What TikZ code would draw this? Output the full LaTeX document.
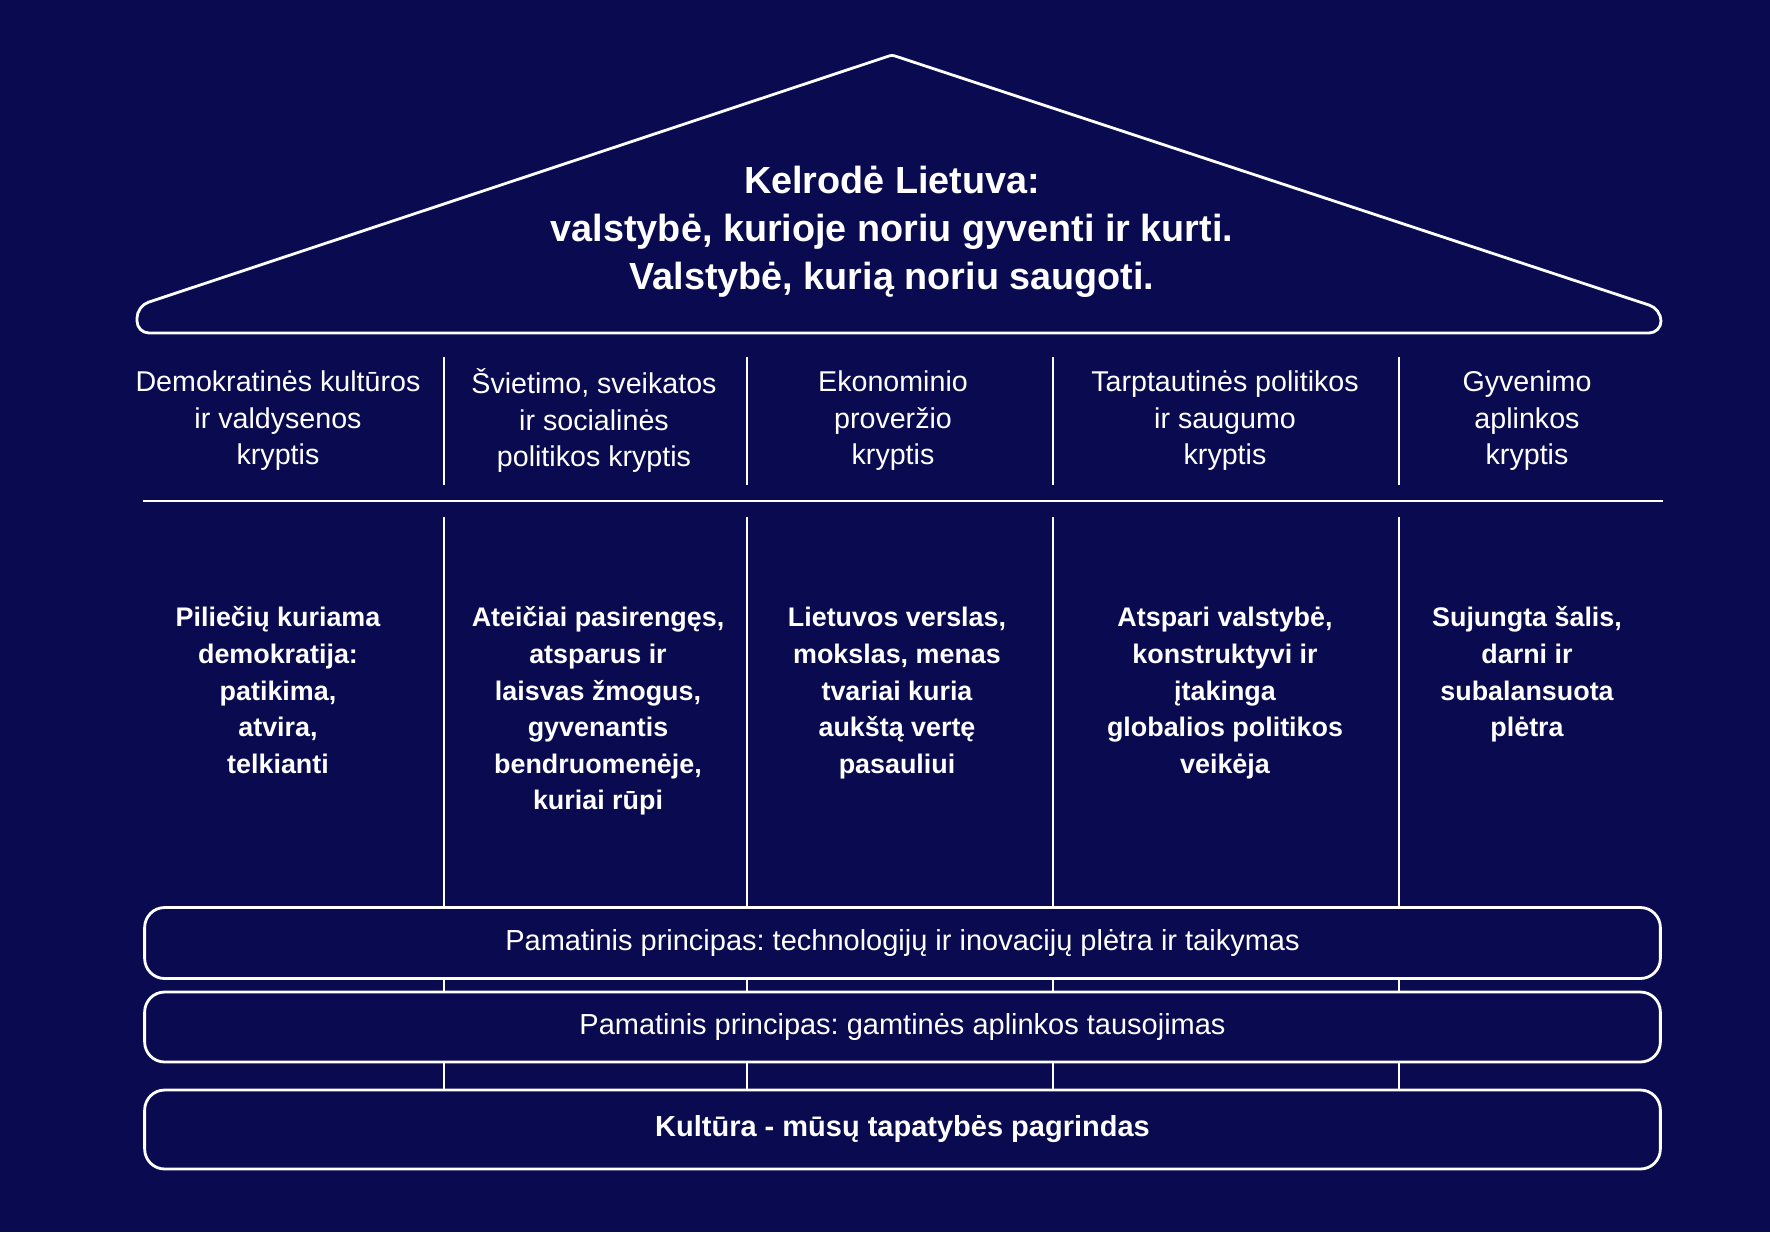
\documentclass[tikz,border=0pt]{standalone}
\usepackage{fontspec}
\setmainfont{Liberation Sans}
\frenchspacing
\definecolor{bgNavy}{HTML}{0A0A50}
\definecolor{lineWhite}{HTML}{FFFFFF}
\usepackage{tikz}
\usetikzlibrary{calc, positioning}
\usepackage{xcolor}

\tikzset{
  roofline/.style={draw=lineWhite, line width=1.6pt},
  divider/.style={draw=lineWhite, line width=1.5pt},
  headtext/.style={text=white, align=center, anchor=north, inner sep=0pt,
    font=\fontsize{16.3}{21}\selectfont},
  goaltext/.style={text=white, align=center, anchor=north, inner sep=0pt,
    font=\fontsize{15.3}{20.8}\selectfont\bfseries},
  basebox/.style={draw=lineWhite, line width=1.6pt, fill=bgNavy, rounded corners=0.4cm,
    minimum width=30.32cm, text=white, inner sep=0pt,
    font=\fontsize{16.5}{21}\selectfont}
}

\begin{document}
\begin{tikzpicture}[x=0.02cm, y=-0.02cm]
        \fill[bgNavy] (0,0) rectangle (1770,1232);
        \useasboundingbox (0,0) rectangle (1770,1232);

        \draw[roofline] (600,333) [rounded corners=0.24cm] -- (137,333) -- (137,306)
          [rounded corners=0.05cm] -- (892,55) [rounded corners=0.24cm] -- (1661,309)
          -- (1661,333) [sharp corners] -- cycle;
        \node[text=white, align=center, anchor=north, inner sep=0pt,
              font=\fontsize{21.5}{27.3}\selectfont\bfseries] (vision) at (892,160) {%
          \strut Kelrodė Lietuva:\\
          valstybė, kurioje noriu gyventi ir kurti.\\
          Valstybė, kurią noriu saugoti.};

        \node[headtext] (head1) at (278,365) {\strut Demokratinės kultūros\\ir valdysenos\\kryptis};
        \node[headtext] (head2) at (594,367) {\strut Švietimo, sveikatos\\ir socialinės\\politikos kryptis};
        \node[headtext] (head3) at (893,365) {\strut Ekonominio\\proveržio\\kryptis};
        \node[headtext] (head4) at (1225,365) {\strut Tarptautinės politikos\\ir saugumo\\kryptis};
        \node[headtext] (head5) at (1527,365) {\strut Gyvenimo\\aplinkos\\kryptis};

        \draw[divider] (143,501) -- (1663,501);

        \node[goaltext] (goal1) at (278,601) {\strut Piliečių kuriama\\demokratija:\\patikima,\\atvira,\\telkianti};
        \node[goaltext] (goal2) at (598,601) {\strut Ateičiai pasirengęs,\\atsparus ir\\laisvas žmogus,\\gyvenantis\\bendruomenėje,\\kuriai rūpi};
        \node[goaltext] (goal3) at (897,601) {\strut Lietuvos verslas,\\mokslas, menas\\tvariai kuria\\aukštą vertę\\pasauliui};
        \node[goaltext] (goal4) at (1225,601) {\strut Atspari valstybė,\\konstruktyvi ir\\įtakinga\\globalios politikos\\veikėja};
        \node[goaltext] (goal5) at (1527,601) {\strut Sujungta šalis,\\darni ir\\subalansuota\\plėtra};

        \node[basebox, minimum height=1.42cm] (found1) at (902.5,943) {Pamatinis principas: technologijų ir inovacijų plėtra ir taikymas};
        \node[basebox, minimum height=1.40cm] (found2) at (902.5,1027) {Pamatinis principas: gamtinės aplinkos tausojimas};
        \node[basebox, minimum height=1.58cm, font=\fontsize{16.5}{21}\selectfont\bfseries] (culture) at (902.5,1129.5) {Kultūra - mūsų tapatybės pagrindas};

        \foreach \x in {444,747,1053,1399} {
          \draw[divider] (\x,357) -- (\x,485);
          \draw[divider] (\x,517) -- (\x,0 |- found1.north);
          \draw[divider] (\x,0 |- found1.south) -- (\x,0 |- found2.north);
          \draw[divider] (\x,0 |- found2.south) -- (\x,0 |- culture.north);
        }
      \end{tikzpicture}
\end{document}
